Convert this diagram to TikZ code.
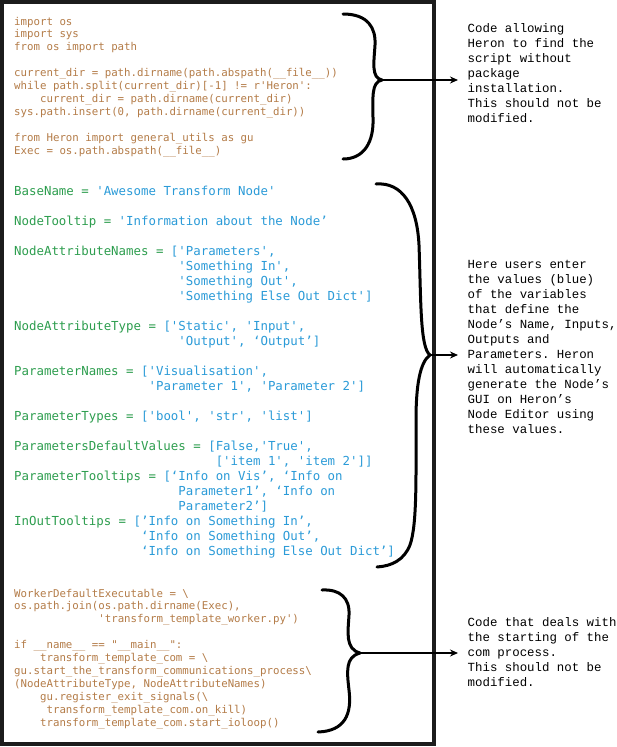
\documentclass[tikz,border=0pt]{standalone}
\usepackage{fontspec}
\setmonofont{DejaVu Sans Mono}
\newfontfamily\annotfont{Liberation Mono}
\usetikzlibrary{arrows.meta}
\definecolor{cbrown}{HTML}{B47C48}
\definecolor{cgreen}{HTML}{2E9E4F}
\definecolor{cblue}{HTML}{2B9BD8}
\definecolor{frame}{HTML}{1C1C1C}
\newcommand\ind[1]{\hskip\dimexpr#1\fontcharwd\font`\x\relax}
\newcommand\cl[1]{\hbox{#1}}
\newcommand\G[1]{\textcolor{cgreen}{#1}}
\newcommand\B[1]{\textcolor{cblue}{#1}}
\tikzset{
  codeA/.style={anchor=base west, inner sep=0pt, text=cbrown,
    font=\ttfamily\fontsize{10.75}{12.9}\selectfont\frenchspacing},
  codeB/.style={anchor=base west, inner sep=0pt,
    font=\ttfamily\fontsize{12.4}{15}\selectfont\frenchspacing},
  note/.style={anchor=base west, inner sep=0pt, text=black,
    font=\annotfont\fontsize{12.4}{15}\selectfont\frenchspacing},
  brace/.style={draw=black, line width=3pt, line cap=round, line join=round},
  arr/.style={draw=black, line width=1.6pt, -{Stealth[length=8pt,width=7pt]}},
}
\begin{document}
\begin{tikzpicture}[x=1pt,y=-1pt]
\useasboundingbox (0,0) rectangle (617,747);
\fill[white] (0,0) rectangle (617,747);

% code blocks
\node[codeA] (code1) at (14,25) {\vtop{%
\cl{import os}
\cl{import sys}
\cl{from os import path}
\cl{}
\cl{current\_dir = path.dirname(path.abspath(\_\_file\_\_))}
\cl{while path.split(current\_dir)[-1] != r'Heron':}
\cl{\ind{4}current\_dir = path.dirname(current\_dir)}
\cl{sys.path.insert(0, path.dirname(current\_dir))}
\cl{}
\cl{from Heron import general\_utils as gu}
\cl{Exec = os.path.abspath(\_\_file\_\_)}}};

\node[codeB] (code2) at (14,195.5) {\vtop{%
\cl{\G{BaseName = }\B{'Awesome Transform Node'}}
\cl{}
\cl{\G{NodeTooltip = }\B{'Information about the Node’}}
\cl{}
\cl{\G{NodeAttributeNames = }\B{['Parameters',}}
\cl{\ind{22}\B{'Something In',}}
\cl{\ind{22}\B{'Something Out',}}
\cl{\ind{22}\B{'Something Else Out Dict']}}
\cl{}
\cl{\G{NodeAttributeType = }\B{['Static', 'Input',}}
\cl{\ind{22}\B{'Output', ‘Output’]}}
\cl{}
\cl{\G{ParameterNames = }\B{['Visualisation',}}
\cl{\ind{18}\B{'Parameter 1', 'Parameter 2']}}
\cl{}
\cl{\G{ParameterTypes = }\B{['bool', 'str', 'list']}}
\cl{}
\cl{\G{ParametersDefaultValues = }\B{[False,'True',}}
\cl{\ind{27}\B{['item 1', 'item 2']]}}
\cl{\G{ParameterTooltips = }\B{[‘Info on Vis’, ‘Info on}}
\cl{\ind{22}\B{Parameter1’, ‘Info on}}
\cl{\ind{22}\B{Parameter2’]}}
\cl{\G{InOutTooltips = }\B{[’Info on Something In’,}}
\cl{\ind{17}\B{‘Info on Something Out’,}}
\cl{\ind{17}\B{‘Info on Something Else Out Dict’]}}}};

\node[codeA] (code3) at (14,597) {\vtop{%
\cl{WorkerDefaultExecutable = \textbackslash}
\cl{os.path.join(os.path.dirname(Exec),}
\cl{\ind{13}'transform\_template\_worker.py')}
\cl{}
\cl{if \_\_name\_\_ == "\_\_main\_\_":}
\cl{\ind{4}transform\_template\_com = \textbackslash}
\cl{gu.start\_the\_transform\_communications\_process\textbackslash}
\cl{(NodeAttributeType, NodeAttributeNames)}
\cl{\ind{4}gu.register\_exit\_signals(\textbackslash}
\cl{\ind{5}transform\_template\_com.on\_kill)}
\cl{\ind{4}transform\_template\_com.start\_ioloop()}}};

% notes
\node[note] (note1) at (467.5,32) {\vtop{%
\cl{Code allowing}
\cl{Heron to find the}
\cl{script without}
\cl{package}
\cl{installation.}
\cl{This should not be}
\cl{modified.}}};

\node[note] (note2) at (467.5,268) {\vtop{%
\cl{Here users enter}
\cl{the values (blue)}
\cl{of the variables}
\cl{that define the}
\cl{Node’s Name, Inputs,}
\cl{Outputs and}
\cl{Parameters. Heron}
\cl{will automatically}
\cl{generate the Node’s}
\cl{GUI on Heron’s}
\cl{Node Editor using}
\cl{these values.}}};

\node[note] (note3) at (467.5,626) {\vtop{%
\cl{Code that deals with}
\cl{the starting of the}
\cl{com process.}
\cl{This should not be}
\cl{modified.}}};

% frame
\draw[frame, line width=4pt] (2,2) rectangle (434,744);

% braces
\coordinate (tip1) at (382,80);
\coordinate (end1) at (458,80);
\draw[brace] (343,14) .. controls (368,14) and (376,28) .. (375,45)
  .. controls (374,62) and (371,78) .. (tip1)
  .. controls (371,82) and (373,98) .. (373,118)
  .. controls (374,142) and (364,159) .. (343,159);
\draw[arr] (tip1) -- (end1);

\coordinate (tip2) at (430,355);
\coordinate (end2) at (458,355);
\draw[brace] (376,184) .. controls (402,182) and (417,205) .. (419,245)
  .. controls (421,300) and (420,348) .. (tip2)
  .. controls (420,362) and (416,385) .. (416,420)
  .. controls (416,480) and (417,525) .. (410,545)
  .. controls (404,560) and (392,566) .. (377,567);
\draw[arr] (tip2) -- (end2);

\coordinate (tip3) at (360,653);
\coordinate (end3) at (458,653);
\draw[brace] (322,590) .. controls (340,589) and (350,598) .. (349,615)
  .. controls (348,632) and (345,649) .. (tip3)
  .. controls (345,657) and (347,672) .. (349,690)
  .. controls (352,714) and (345,731) .. (318,732);
\draw[arr] (tip3) -- (end3);
\end{tikzpicture}
\end{document}
